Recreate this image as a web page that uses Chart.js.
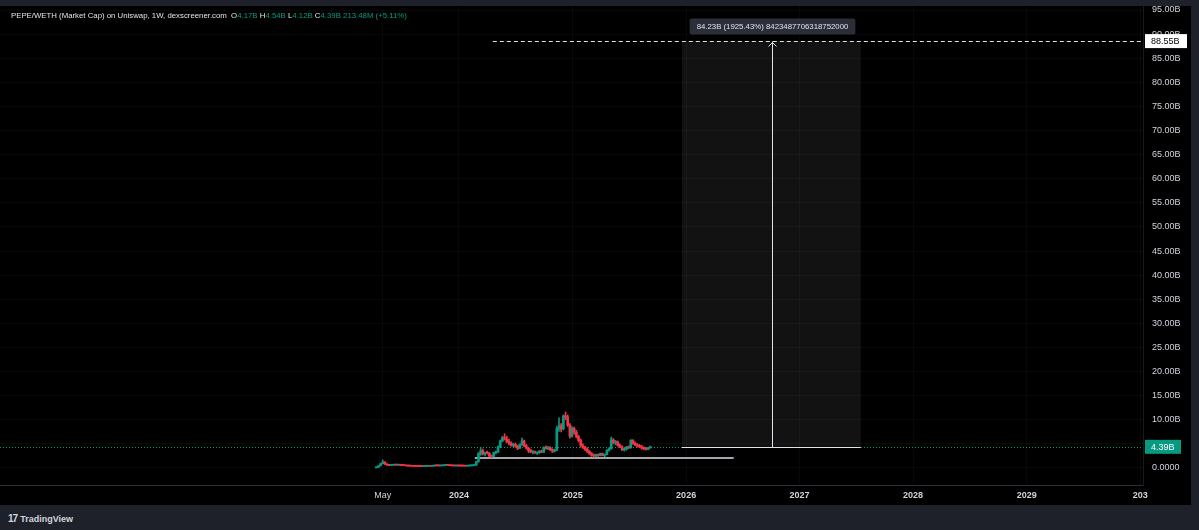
<!DOCTYPE html>
<html>
<head>
<meta charset="utf-8">
<script src="https://cdn.jsdelivr.net/npm/chart.js@4.4.1/dist/chart.umd.min.js"></script>
<style>
  html, body { margin: 0; padding: 0; background: #1e2129; width: 1199px; height: 530px; overflow: hidden; }
  #panel { position: absolute; left: 0; top: 6px; width: 1191px; height: 499px; background: #000; }
  #header { position: absolute; left: 11px; top: 11px; font: 7.8px "Liberation Sans", sans-serif; color: #e0e3eb; white-space: pre; }
  #header .v { color: #089981; }
  #footer { position: absolute; left: 8px; top: 513px; font: bold 9px "Liberation Sans", sans-serif; color: #d1d4dc; }
  #footer b { font-size: 10px; letter-spacing: -1px; margin-right: 3px; }
</style>
</head>
<body>
<div id="panel"><canvas id="chart" width="1191" height="499"></canvas></div>
<div id="header">PEPE/WETH (Market Cap) on Uniswap, 1W, dexscreener.com  O<span class="v">4.17B</span> H<span class="v">4.54B</span> L<span class="v">4.12B</span> C<span class="v">4.39B</span> <span class="v">213.48M (+5.11%)</span></div>
<div id="footer"><b>17</b>TradingView</div>
<script>
// weekly candles, values in billions, week 0 = first week of 2024
const firstWeek = -38;
const opens = [0.02,0.12,0.45,0.9,1.25,0.8,0.6,0.55,0.58,0.66,0.6,0.63,0.57,0.52,0.48,0.42,0.4,0.38,0.35,0.34,0.33,0.32,0.3,0.31,0.34,0.38,0.36,0.42,0.46,0.45,0.43,0.47,0.56,0.6,0.52,0.47,0.44,0.42,
  0.45,0.43,0.41,0.4,0.38,0.42,0.44,0.5,0.6,1.3,3.0,3.6,2.9,3.2,3.1,2.5,2.4,3.2,3.3,4.4,5.6,6.3,6.0,5.5,5.2,4.7,4.9,4.5,4.1,4.9,5.6,4.6,4.1,3.6,3.3,3.4,3.1,3.2,3.5,3.3,4.3,4.0,4.2,3.8,3.5,3.7,8.2,8.8,8.1,10.8,10.6,8.9,
  6.6,8.2,7.4,6.5,5.7,4.6,4.3,3.9,3.4,3.0,2.6,2.5,2.8,2.6,3.0,2.6,2.8,3.7,4.0,5.8,5.3,5.4,4.7,4.4,3.8,3.9,4.3,4.2,5.7,5.1,4.8,4.6,4.4,4.1,4.0,3.9,4.17];
const highs = [0.15,0.5,1.0,1.66,1.3,0.9,0.65,0.62,0.7,0.7,0.66,0.68,0.6,0.56,0.5,0.45,0.43,0.4,0.38,0.37,0.36,0.35,0.33,0.36,0.4,0.42,0.44,0.5,0.52,0.5,0.48,0.6,0.72,0.65,0.56,0.5,0.46,0.48,
  0.5,0.46,0.44,0.42,0.44,0.46,0.52,0.64,1.4,3.2,4.3,3.9,3.3,3.5,3.2,2.7,3.3,3.5,4.6,5.8,6.6,7.1,6.6,6.0,5.4,5.1,5.2,4.7,5.0,6.2,5.8,4.9,4.3,3.9,3.6,3.5,3.3,3.6,3.7,4.4,4.6,4.5,4.4,4.0,3.9,8.6,10.4,9.2,11.0,11.6,11.0,9.2,
  8.6,8.5,7.8,6.8,6.0,5.0,4.5,4.2,3.6,3.2,2.9,2.9,2.9,3.1,3.1,2.9,3.8,4.2,6.4,6.1,5.7,5.6,5.0,4.6,4.1,4.5,4.6,5.9,5.9,5.4,5.1,4.9,4.7,4.4,4.3,4.3,4.54];
const lows = [0.01,0.1,0.4,0.85,0.7,0.55,0.5,0.5,0.55,0.58,0.55,0.55,0.5,0.45,0.38,0.38,0.36,0.33,0.32,0.31,0.3,0.28,0.27,0.29,0.32,0.34,0.35,0.4,0.43,0.4,0.41,0.45,0.54,0.5,0.45,0.42,0.4,0.4,
  0.4,0.39,0.38,0.36,0.37,0.41,0.43,0.48,0.58,1.2,2.6,2.7,2.5,2.9,2.3,2.1,2.3,2.9,3.2,4.2,5.4,5.8,5.2,4.8,4.5,4.4,4.3,3.8,4.0,4.7,4.4,3.9,3.2,3.2,2.9,3.0,2.8,3.0,3.2,3.2,3.9,3.8,3.6,3.2,3.3,3.6,7.6,7.5,7.9,10.0,8.6,6.2,
  6.4,7.0,6.2,5.4,4.3,4.0,3.6,3.2,2.8,2.4,2.2,2.3,2.4,2.5,2.5,2.3,2.7,3.5,3.9,5.0,4.8,4.5,4.2,3.6,3.5,3.7,4.0,4.1,4.9,4.6,4.3,4.2,3.9,3.8,3.7,3.8,4.12];
const closes = [0.12,0.45,0.9,1.25,0.8,0.6,0.55,0.58,0.66,0.6,0.63,0.57,0.52,0.48,0.42,0.4,0.38,0.35,0.34,0.33,0.32,0.3,0.31,0.34,0.38,0.36,0.42,0.46,0.45,0.43,0.47,0.56,0.6,0.52,0.47,0.44,0.42,0.45,
  0.43,0.41,0.4,0.38,0.42,0.44,0.5,0.6,1.3,3.0,3.6,2.9,3.2,3.1,2.5,2.4,3.2,3.3,4.4,5.6,6.3,6.0,5.5,5.2,4.7,4.9,4.5,4.1,4.9,5.6,4.6,4.1,3.6,3.3,3.4,3.1,3.2,3.5,3.3,4.3,4.0,4.2,3.8,3.5,3.7,8.2,8.8,8.1,10.8,10.6,8.9,6.6,
  8.2,7.4,6.5,5.7,4.6,4.3,3.9,3.4,3.0,2.6,2.5,2.8,2.6,3.0,2.6,2.8,3.7,4.0,5.8,5.3,5.4,4.7,4.4,3.8,3.9,4.3,4.2,5.7,5.1,4.8,4.6,4.4,4.1,4.0,3.9,4.17,4.39];

const xTickWeeks = [-35, 0, 52.29, 104.43, 156.57, 208.71, 261, 313.14];
const xTickLabels = ['May', '2024', '2025', '2026', '2027', '2028', '2029', '203'];
const yTicks = [0,5,10,15,20,25,30,35,40,45,50,55,60,65,70,75,80,85,90,95];

const lastPrice = 4.39;
const measureFrom = 4.39, measureTo = 88.55;
const measureWeeks = [102.5, 184.7];
const arrowWeek = 143.8;
const measureText = '84.23B (1925.43%) 8423487706318752000';
const dashedStartWeek = 15.6;
const supportValue = 2.07;
const supportWeeks = [7.3, 126.3];

const GREEN = '#089981', RED = '#f23645';
const weeks = opens.map((_, i) => firstWeek + i);
const up = i => closes[i] >= opens[i];

const overlay = {
  id: 'overlay',
  beforeDatasetsDraw(chart) {
    const { ctx, chartArea: a, scales: { x, y } } = chart;
    ctx.save();
    // measure box
    const mx0 = x.getPixelForValue(measureWeeks[0]), mx1 = x.getPixelForValue(measureWeeks[1]);
    const my0 = y.getPixelForValue(measureFrom), my1 = y.getPixelForValue(measureTo);
    ctx.fillStyle = 'rgba(255,255,255,0.07)';
    ctx.fillRect(mx0, my1, mx1 - mx0, my0 - my1);
    // last price dotted line
    ctx.strokeStyle = GREEN; ctx.lineWidth = 1; ctx.setLineDash([1, 2]);
    ctx.beginPath(); ctx.moveTo(a.left, Math.round(my0) + 0.5); ctx.lineTo(a.right, Math.round(my0) + 0.5); ctx.stroke();
    // support line
    ctx.setLineDash([]); ctx.strokeStyle = '#a3a6af'; ctx.lineWidth = 2;
    const sy = y.getPixelForValue(supportValue);
    ctx.beginPath(); ctx.moveTo(x.getPixelForValue(supportWeeks[0]), sy); ctx.lineTo(x.getPixelForValue(supportWeeks[1]), sy); ctx.stroke();
    ctx.restore();
  },
  afterDatasetsDraw(chart) {
    const { ctx, chartArea: a, scales: { x, y } } = chart;
    ctx.save();
    const mx0 = x.getPixelForValue(measureWeeks[0]), mx1 = x.getPixelForValue(measureWeeks[1]);
    const my0 = Math.round(y.getPixelForValue(measureFrom)) + 0.5, my1 = Math.round(y.getPixelForValue(measureTo)) + 0.5;
    const ax = Math.round(x.getPixelForValue(arrowWeek)) + 0.5;
    ctx.strokeStyle = '#e0e3eb'; ctx.lineWidth = 1;
    // dashed target line
    ctx.setLineDash([4, 3]);
    ctx.beginPath(); ctx.moveTo(x.getPixelForValue(dashedStartWeek), my1); ctx.lineTo(a.right, my1); ctx.stroke();
    ctx.setLineDash([]);
    ctx.beginPath(); ctx.moveTo(mx0, my0); ctx.lineTo(mx1, my0); ctx.stroke();
    ctx.beginPath(); ctx.moveTo(ax, my0); ctx.lineTo(ax, my1); ctx.stroke();
    ctx.beginPath(); ctx.moveTo(ax - 4, my1 + 5); ctx.lineTo(ax, my1 + 1); ctx.lineTo(ax + 4, my1 + 5); ctx.stroke();
    // label box
    ctx.font = '7.8px "Liberation Sans", sans-serif';
    const tw = ctx.measureText(measureText).width;
    ctx.fillStyle = '#2a2e39';
    ctx.beginPath(); ctx.roundRect(ax - tw / 2 - 7, my1 - 23, tw + 14, 16, 2); ctx.fill();
    ctx.fillStyle = '#e0e3eb'; ctx.textAlign = 'center'; ctx.textBaseline = 'middle';
    ctx.fillText(measureText, ax, my1 - 15);
    ctx.restore();
  },
  afterDraw(chart) {
    const { ctx, chartArea: a, scales: { y } } = chart;
    ctx.save();
    ctx.font = '9px "Liberation Sans", sans-serif'; ctx.textBaseline = 'middle'; ctx.textAlign = 'left';
    const ty = y.getPixelForValue(measureTo);
    ctx.fillStyle = '#ffffff'; ctx.fillRect(a.right + 2, ty - 7, 42, 14);
    ctx.fillStyle = '#000'; ctx.fillText('88.55B', a.right + 8, ty + 0.5);
    const py = y.getPixelForValue(lastPrice);
    ctx.fillStyle = GREEN; ctx.fillRect(a.right + 2, py - 7, 36, 14);
    ctx.fillStyle = '#fff'; ctx.fillText('4.39B', a.right + 8, py + 0.5);
    ctx.restore();
  }
};

new Chart(document.getElementById('chart'), {
  type: 'bar',
  data: {
    datasets: [
      {
        label: 'wicks', order: 1,
        data: weeks.map((w, i) => ({ x: w, y: [lows[i], highs[i]] })),
        backgroundColor: c => up(c.dataIndex) ? GREEN : RED,
        barThickness: 1, minBarLength: 1, grouped: false
      },
      {
        label: 'bodies', order: 0,
        data: weeks.map((w, i) => ({ x: w, y: [opens[i], closes[i]] })),
        backgroundColor: c => up(c.dataIndex) ? GREEN : RED,
        barThickness: 2, minBarLength: 1, grouped: false
      }
    ]
  },
  options: {
    responsive: false,
    animation: false,
    layout: { padding: 0 },
    plugins: { legend: { display: false }, tooltip: { enabled: false } },
    scales: {
      x: {
        type: 'linear', offset: false,
        min: -210.9, max: 314.4,
        afterBuildTicks: s => { s.ticks = xTickWeeks.map(v => ({ value: v })); },
        afterFit: s => { s.height = 20; s.paddingLeft = 0; s.paddingRight = 0; },
        grid: { color: 'rgba(255,255,255,0.03)', offset: false, drawTicks: false },
        border: { color: '#2a2e39' },
        ticks: {
          padding: 5, maxRotation: 0, autoSkip: false, color: '#d1d4dc',
          font: c => ({ family: '"Liberation Sans", sans-serif', size: 9, weight: c.index === 0 ? 'normal' : 'bold' }),
          callback: (v, i) => xTickLabels[i]
        }
      },
      y: {
        position: 'right',
        min: -3.53, max: 95.83,
        afterBuildTicks: s => { s.ticks = yTicks.map(v => ({ value: v })); },
        afterFit: s => { s.width = 48; s.paddingTop = 0; s.paddingBottom = 0; },
        grid: { color: 'rgba(255,255,255,0.03)', drawTicks: false },
        border: { color: '#1a1a1a' },
        ticks: {
          padding: 9, color: '#d1d4dc',
          font: { family: '"Liberation Sans", sans-serif', size: 9 },
          callback: v => v === 0 ? '0.0000' : v.toFixed(2) + 'B'
        }
      }
    }
  },
  plugins: [overlay]
});
</script>
</body>
</html>
